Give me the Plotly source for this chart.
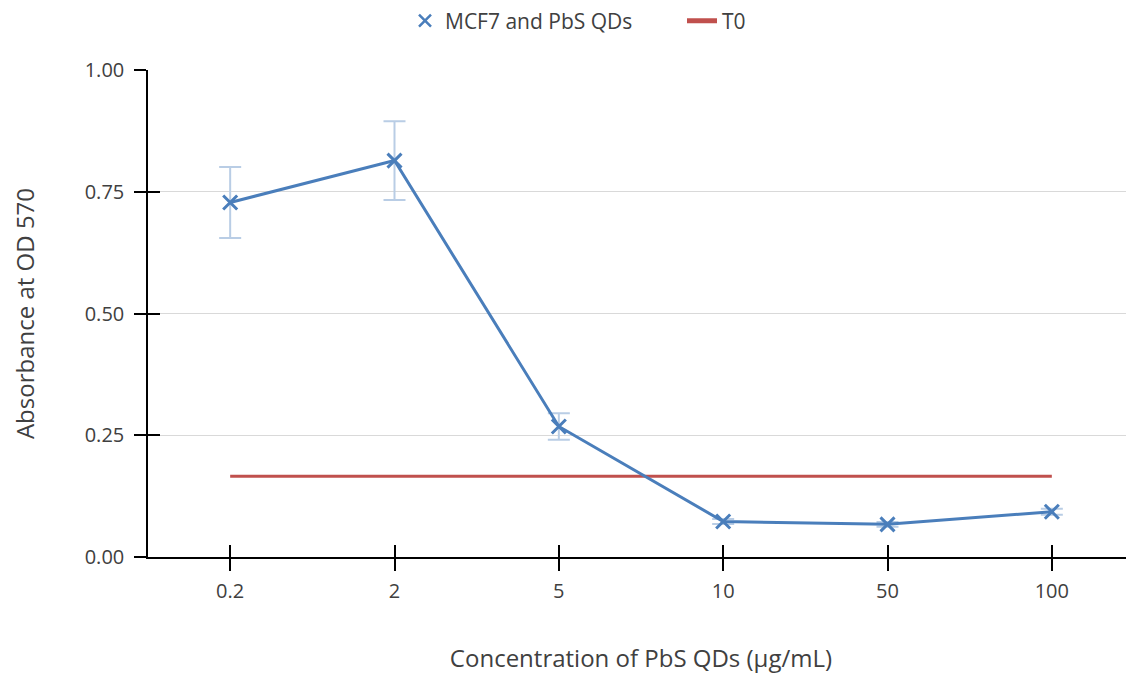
import plotly.graph_objects as go

categories = ["0.2", "2", "5", "10", "50", "100"]
mcf7_values = [0.728, 0.814, 0.268, 0.073, 0.067, 0.093]
mcf7_errors = [0.073, 0.081, 0.027, 0.005, 0.005, 0.006]
t0_values = [0.166, 0.166, 0.166, 0.166, 0.166, 0.166]
y_ticks = [0.0, 0.25, 0.5, 0.75, 1.0]
y_ticklabels = ["0.00", "0.25", "0.50", "0.75", "1.00"]

FONT = "Open Sans"
TXT = "#404040"
BLUE = "#4a7ebb"
W, H = 1126, 670  # page body has an 8px margin
fig = go.Figure()

fig.add_trace(go.Scatter(
    x=categories, y=t0_values, mode="lines", name="T0",
    line=dict(color="#c0504d", width=3), showlegend=False,
))
fig.add_trace(go.Scatter(
    x=categories, y=mcf7_values, mode="lines+markers", name="MCF7 and PbS QDs",
    line=dict(color=BLUE, width=3), showlegend=False,
    marker=dict(symbol="x-thin", size=14, color=BLUE,
                line=dict(color=BLUE, width=3)),
    error_y=dict(type="data", array=mcf7_errors, visible=True,
                 color="#b9cde5", thickness=2, width=11),
))
# legend entries (marker only for MCF7, thick line for T0)
fig.add_trace(go.Scatter(
    x=[None], y=[None], mode="markers", name="MCF7 and PbS QDs",
    marker=dict(symbol="x-thin", size=12, color=BLUE, line=dict(color=BLUE, width=2.5)),
))
fig.add_trace(go.Scatter(
    x=[None], y=[None], mode="lines", name="T0",
    line=dict(color="#c0504d", width=5),
))
# helper trace on the overlay axes so their inner ticks render
fig.add_trace(go.Scatter(x=categories, y=t0_values, xaxis="x2", yaxis="y2",
                         mode="none", showlegend=False, hoverinfo="skip"))

fig.update_layout(
    width=W, height=H,
    paper_bgcolor="white", plot_bgcolor="white",
    margin=dict(l=140, r=0, t=62, b=121),
    font=dict(family=FONT, size=20, color=TXT),
    showlegend=True,
    legend=dict(orientation="h", x=397 / W, xref="container", xanchor="left",
                y=1 - 13 / H, yref="container", yanchor="middle",
                font=dict(family=FONT, size=21, color=TXT),
                entrywidth=232, entrywidthmode="pixels"),
    xaxis=dict(
        type="category", categoryorder="array", categoryarray=categories,
        range=[-0.5, 5.5], showgrid=False, zeroline=False, automargin=False,
        showline=True, linecolor="#000000", linewidth=1.5,
        ticks="outside", ticklen=12, tickwidth=1.5, tickcolor="#000000",
        tickfont=dict(family=FONT, size=20, color=TXT),
        ticklabelstandoff=3,
        title=dict(text="Concentration of PbS QDs (μg/mL)", standoff=47,
                   font=dict(family=FONT, size=24, color=TXT)),
    ),
    xaxis2=dict(
        type="category", categoryorder="array", categoryarray=categories,
        range=[-0.5, 5.5], overlaying="x", anchor="y", side="bottom",
        showgrid=False, zeroline=False, showline=False, automargin=False,
        ticks="inside", ticklen=12, tickwidth=1.5, tickcolor="#000000",
        showticklabels=False,
    ),
    yaxis=dict(
        range=[0, 1], tickvals=y_ticks, ticktext=y_ticklabels,
        showgrid=True, gridcolor="#d9d9d9", gridwidth=1, zeroline=False,
        automargin=False,
        showline=True, linecolor="#000000", linewidth=1.5,
        ticks="outside", ticklen=12, tickwidth=1.5, tickcolor="#000000",
        tickfont=dict(family=FONT, size=20, color=TXT),
        ticklabelstandoff=6,
        title=dict(text="Absorbance at OD 570", standoff=44,
                   font=dict(family=FONT, size=24, color=TXT)),
    ),
    yaxis2=dict(
        range=[0, 1], tickvals=y_ticks, overlaying="y", anchor="x", side="left",
        showgrid=False, zeroline=False, showline=False, automargin=False,
        ticks="inside", ticklen=12, tickwidth=1.5, tickcolor="#000000",
        showticklabels=False,
    ),
)

fig.write_html("out.html")
